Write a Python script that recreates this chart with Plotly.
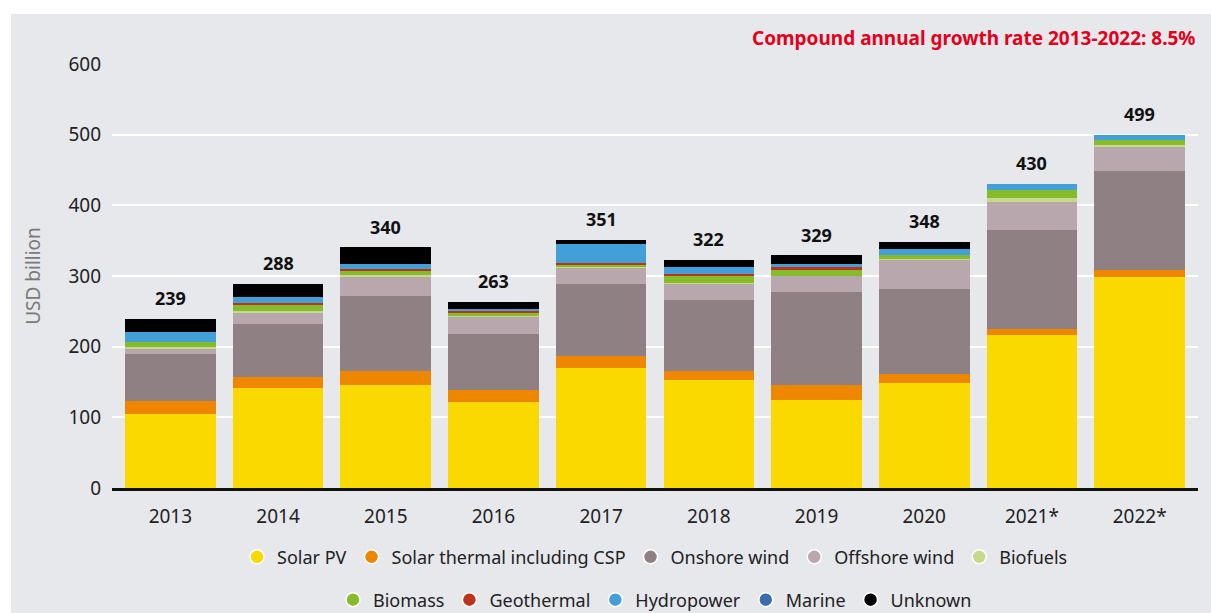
import plotly.graph_objects as go

years = ["2013", "2014", "2015", "2016", "2017", "2018", "2019", "2020", "2021*", "2022*"]
totals = [239, 288, 340, 263, 351, 322, 329, 348, 430, 499]

solar_pv = [105, 142, 146, 121, 170, 153, 125, 149, 217, 298]
solar_thermal = [18.5, 15.6, 20, 17, 17, 13, 21, 12.7, 8.5, 10]
onshore_wind = [66.5, 75, 105, 80, 102, 100.6, 131.5, 120, 139, 140]
offshore_wind = [6, 15.6, 27, 25, 22.6, 22.7, 22.7, 41, 40, 34]
biofuels = [3, 2.8, 3, 1, 1, 0.5, 0.5, 1.4, 5.6, 4]
biomass = [8, 8.6, 7, 5, 3.5, 11, 8.4, 5.7, 11.3, 6]
geothermal = [0, 2.8, 2, 2, 2.8, 1.4, 3, 0, 0, 0]
hydropower = [14, 8.5, 6.5, 2.5, 27, 10, 5.5, 8.6, 9, 7]
marine = [0, 0, 0, 0, 0, 0, 0, 0, 0, 0]
unknown = [18, 18, 24, 9.5, 5, 10, 12.7, 10, 0, 0]

series = [
    ("Solar PV", solar_pv, "#f9d900"),
    ("Solar thermal including CSP", solar_thermal, "#ee8600"),
    ("Onshore wind", onshore_wind, "#8f8083"),
    ("Offshore wind", offshore_wind, "#b8a7ad"),
    ("Biofuels", biofuels, "#c6da8e"),
    ("Biomass", biomass, "#86bc2b"),
    ("Geothermal", geothermal, "#c0331b"),
    ("Hydropower", hydropower, "#429fd8"),
    ("Marine", marine, "#3b6cb0"),
    ("Unknown", unknown, "#000000"),
]

FONT = "Noto Sans"
BG = "#e7e8ec"

fig = go.Figure()
for name, vals, col in series:
    fig.add_trace(go.Bar(x=years, y=vals, name=name, marker_color=col,
                         marker_line_width=0, showlegend=False,
                         hovertemplate=name + ": %{y}<extra></extra>"))

for i, (name, vals, col) in enumerate(series):
    fig.add_trace(go.Scatter(x=[None], y=[None], mode="markers", name=name,
                             marker=dict(symbol="circle", size=14, color=col,
                                         line=dict(color="white", width=1.5)),
                             legend="legend" if i < 5 else "legend2"))

for i, t in enumerate(totals):
    fig.add_annotation(x=i, y=t, text="<b>%d</b>" % t, showarrow=False,
                       yanchor="bottom", yshift=7,
                       font=dict(family=FONT, size=18, color="#111"))

fig.add_annotation(xref="paper", yref="paper", x=1.0, y=1.061,
                   xanchor="right", yanchor="middle", showarrow=False,
                   text="<b>Compound annual growth rate 2013-2022: 8.5%</b>",
                   font=dict(family=FONT, size=19, color="#e2001a"))

# grey panel behind the chart
fig.add_shape(type="rect", xref="paper", yref="paper", layer="below",
              x0=-0.093, x1=1.02, y0=-0.3, y1=1.118,
              fillcolor=BG, line_width=0)

fig.update_layout(
    width=1211, height=613,
    margin=dict(l=112, r=13, t=64, b=125, autoexpand=False),
    paper_bgcolor="white",
    plot_bgcolor="rgba(0,0,0,0)",
    barmode="stack",
    bargap=0.158,
    font=dict(family=FONT, size=18, color="#222"),
    xaxis=dict(type="category", range=[-0.542, 9.542], showgrid=False, showline=True,
               linecolor="#111", linewidth=2.5, ticks="",
               tickfont=dict(size=19, color="#222"), ticklabelstandoff=9),
    yaxis=dict(range=[0, 600], dtick=100, showgrid=True, gridcolor="white",
               gridwidth=1.5, zeroline=False, showline=False, ticks="",
               tickfont=dict(size=19, color="#222"), ticklabelstandoff=10,
               title=dict(text="USD billion", font=dict(size=19, color="#7a7a7a"),
                          standoff=22)),
    legend=dict(orientation="h", x=0.5, xanchor="center", y=-0.163,
                yanchor="middle", bgcolor="rgba(0,0,0,0)", traceorder="normal",
                font=dict(size=18, color="#222"), itemclick=False),
    legend2=dict(orientation="h", x=0.5, xanchor="center", y=-0.264,
                 yanchor="middle", bgcolor="rgba(0,0,0,0)", traceorder="normal",
                 font=dict(size=18, color="#222"), itemclick=False),
)

fig.write_html("out.html", config={"displayModeBar": False},
               post_script="document.body.style.margin='0';")
